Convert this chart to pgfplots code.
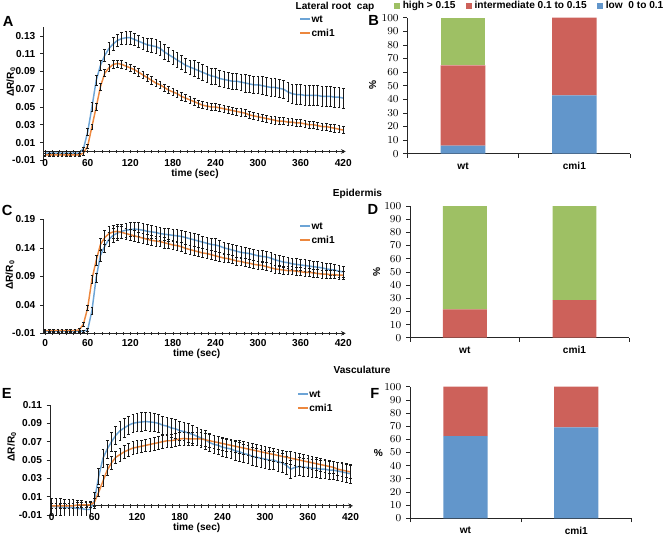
\documentclass[border=0pt]{standalone}
\usepackage{fontspec}
\setmainfont{Liberation Sans}
\usepackage{pgfplots}
\pgfplotsset{compat=1.18}
\usepackage{pgfplotstable}

\definecolor{wtc}{RGB}{108,164,214}
\definecolor{cmc}{RGB}{236,135,62}
\definecolor{hi}{RGB}{158,192,100}
\definecolor{mid}{RGB}{205,97,90}
\definecolor{lo}{RGB}{98,150,203}
\newcommand{\tf}{\bfseries\fontsize{7.6}{9}\selectfont}
\newcommand{\lf}{\bfseries\fontsize{11}{13}\selectfont}

\pgfplotstableread{
t wt wte cm cme
0 -0.002 0.002 -0.004 0.002
6 -0.002 0.002 -0.004 0.002
12 -0.002 0.002 -0.004 0.002
18 -0.002 0.002 -0.004 0.002
24 -0.002 0.002 -0.004 0.002
30 -0.002 0.002 -0.004 0.002
36 -0.002 0.002 -0.004 0.002
42 -0.002 0.002 -0.004 0.002
48 -0.002 0.002 -0.004 0.002
54 0.003 0.002 -0.002 0.002
60 0.022 0.004 0.006 0.002
66 0.050 0.005 0.028 0.003
72 0.080 0.006 0.050 0.004
78 0.097 0.006 0.073 0.004
84 0.108 0.007 0.088 0.004
90 0.116 0.007 0.094 0.004
96 0.121 0.007 0.098 0.004
102 0.125 0.007 0.099 0.004
108 0.127 0.007 0.098 0.004
114 0.128 0.007 0.096 0.004
120 0.128 0.007 0.094 0.004
126 0.126 0.007 0.092 0.004
132 0.124 0.007 0.089 0.004
138 0.122 0.007 0.086 0.004
144 0.120 0.007 0.083 0.004
150 0.119 0.008 0.080 0.004
156 0.118 0.008 0.077 0.004
162 0.116 0.008 0.075 0.004
168 0.112 0.008 0.072 0.004
174 0.109 0.008 0.069 0.004
180 0.106 0.008 0.067 0.004
186 0.103 0.008 0.065 0.004
192 0.100 0.008 0.062 0.004
198 0.097 0.008 0.060 0.004
204 0.095 0.008 0.058 0.004
210 0.093 0.009 0.056 0.004
216 0.091 0.009 0.054 0.004
222 0.089 0.009 0.052 0.004
228 0.087 0.009 0.051 0.004
234 0.085 0.009 0.050 0.004
240 0.084 0.009 0.050 0.004
246 0.082 0.009 0.049 0.004
252 0.081 0.009 0.048 0.004
258 0.080 0.009 0.047 0.004
264 0.079 0.009 0.046 0.004
270 0.079 0.009 0.045 0.004
276 0.078 0.009 0.044 0.004
282 0.077 0.010 0.043 0.004
288 0.076 0.010 0.041 0.004
294 0.075 0.010 0.040 0.004
300 0.075 0.010 0.039 0.004
306 0.074 0.010 0.038 0.004
312 0.073 0.010 0.037 0.004
318 0.072 0.010 0.036 0.004
324 0.072 0.010 0.035 0.004
330 0.071 0.010 0.034 0.004
336 0.070 0.010 0.034 0.004
342 0.067 0.011 0.033 0.004
348 0.065 0.011 0.033 0.004
354 0.064 0.011 0.032 0.004
360 0.064 0.011 0.032 0.004
366 0.063 0.011 0.031 0.004
372 0.063 0.011 0.030 0.004
378 0.063 0.011 0.030 0.004
384 0.063 0.011 0.029 0.004
390 0.062 0.011 0.028 0.004
396 0.062 0.011 0.028 0.004
402 0.062 0.011 0.027 0.004
408 0.061 0.011 0.026 0.004
414 0.061 0.011 0.025 0.004
420 0.060 0.011 0.024 0.004
}\dataA

\pgfplotstableread{
t wt wte cm cme
0 -0.006 0.002 -0.005 0.002
6 -0.006 0.002 -0.005 0.002
12 -0.006 0.002 -0.005 0.002
18 -0.006 0.002 -0.005 0.002
24 -0.006 0.002 -0.005 0.002
30 -0.006 0.002 -0.005 0.002
36 -0.006 0.002 -0.005 0.002
42 -0.006 0.002 -0.005 0.002
48 -0.006 0.002 -0.004 0.002
54 -0.006 0.002 0.006 0.003
60 -0.004 0.003 0.035 0.005
66 0.030 0.006 0.085 0.007
72 0.088 0.008 0.118 0.009
78 0.127 0.010 0.146 0.011
84 0.143 0.011 0.158 0.012
90 0.155 0.012 0.165 0.012
96 0.162 0.012 0.168 0.012
102 0.166 0.012 0.169 0.012
108 0.169 0.012 0.167 0.011
114 0.171 0.012 0.165 0.010
120 0.172 0.012 0.163 0.010
126 0.173 0.012 0.161 0.009
132 0.172 0.012 0.159 0.009
138 0.171 0.012 0.157 0.009
144 0.169 0.012 0.155 0.009
150 0.168 0.011 0.153 0.009
156 0.167 0.011 0.152 0.009
162 0.165 0.011 0.151 0.009
168 0.164 0.011 0.149 0.009
174 0.163 0.011 0.147 0.008
180 0.162 0.011 0.145 0.008
186 0.161 0.011 0.144 0.008
192 0.160 0.011 0.142 0.008
198 0.158 0.011 0.139 0.008
204 0.156 0.011 0.137 0.008
210 0.154 0.011 0.135 0.008
216 0.152 0.011 0.133 0.008
222 0.150 0.011 0.131 0.008
228 0.148 0.011 0.130 0.008
234 0.146 0.011 0.128 0.008
240 0.145 0.011 0.126 0.008
246 0.143 0.011 0.124 0.008
252 0.140 0.010 0.122 0.007
258 0.138 0.010 0.121 0.007
264 0.136 0.010 0.119 0.007
270 0.134 0.010 0.117 0.007
276 0.132 0.010 0.116 0.007
282 0.131 0.010 0.114 0.007
288 0.130 0.010 0.113 0.007
294 0.128 0.010 0.111 0.007
300 0.126 0.010 0.110 0.007
306 0.125 0.010 0.109 0.007
312 0.124 0.010 0.107 0.007
318 0.122 0.010 0.105 0.007
324 0.119 0.010 0.103 0.007
330 0.117 0.010 0.102 0.007
336 0.115 0.010 0.101 0.007
342 0.114 0.010 0.100 0.007
348 0.112 0.010 0.100 0.007
354 0.111 0.010 0.099 0.007
360 0.110 0.010 0.098 0.007
366 0.109 0.010 0.097 0.007
372 0.108 0.010 0.097 0.007
378 0.107 0.010 0.096 0.007
384 0.106 0.010 0.095 0.007
390 0.105 0.010 0.094 0.007
396 0.103 0.010 0.094 0.007
402 0.102 0.010 0.093 0.007
408 0.101 0.010 0.093 0.007
414 0.099 0.010 0.092 0.007
420 0.098 0.010 0.092 0.007
}\dataC

\pgfplotstableread{
t wt wte cm cme
0 -0.001 0.009 0.000 0.003
6 -0.001 0.009 0.000 0.003
12 -0.001 0.009 0.000 0.003
18 -0.002 0.009 0.000 0.003
24 -0.002 0.009 0.000 0.003
30 -0.002 0.009 0.000 0.003
36 -0.003 0.009 0.001 0.003
42 -0.003 0.009 0.001 0.003
48 -0.004 0.009 0.001 0.003
54 -0.004 0.009 0.001 0.003
60 0.006 0.009 0.004 0.004
66 0.032 0.009 0.015 0.005
72 0.052 0.010 0.027 0.006
78 0.062 0.010 0.039 0.006
84 0.070 0.010 0.047 0.007
90 0.077 0.010 0.053 0.007
96 0.082 0.010 0.056 0.007
102 0.085 0.010 0.059 0.007
108 0.088 0.010 0.061 0.007
114 0.090 0.010 0.063 0.007
120 0.091 0.010 0.064 0.007
126 0.0915 0.010 0.065 0.007
132 0.092 0.010 0.066 0.007
138 0.0915 0.010 0.067 0.007
144 0.091 0.010 0.068 0.007
150 0.090 0.010 0.069 0.007
156 0.088 0.010 0.070 0.007
162 0.087 0.010 0.071 0.007
168 0.085 0.010 0.071 0.007
174 0.084 0.010 0.072 0.007
180 0.082 0.010 0.073 0.007
186 0.081 0.010 0.0735 0.007
192 0.0795 0.010 0.073 0.007
198 0.078 0.010 0.073 0.007
204 0.076 0.010 0.073 0.007
210 0.074 0.010 0.073 0.007
216 0.072 0.010 0.072 0.007
222 0.069 0.010 0.071 0.007
228 0.067 0.010 0.070 0.007
234 0.066 0.010 0.069 0.007
240 0.064 0.010 0.068 0.007
246 0.063 0.010 0.067 0.007
252 0.062 0.010 0.066 0.007
258 0.060 0.010 0.065 0.007
264 0.059 0.010 0.064 0.007
270 0.057 0.010 0.063 0.007
276 0.056 0.010 0.062 0.007
282 0.054 0.010 0.061 0.007
288 0.053 0.010 0.060 0.007
294 0.052 0.010 0.059 0.007
300 0.051 0.010 0.058 0.007
306 0.050 0.010 0.057 0.007
312 0.050 0.010 0.056 0.007
318 0.048 0.010 0.055 0.007
324 0.047 0.010 0.054 0.007
330 0.044 0.010 0.053 0.007
336 0.040 0.010 0.052 0.007
342 0.042 0.010 0.051 0.007
348 0.043 0.010 0.050 0.007
354 0.042 0.010 0.049 0.007
360 0.042 0.010 0.048 0.007
366 0.041 0.010 0.047 0.007
372 0.041 0.010 0.046 0.007
378 0.040 0.010 0.045 0.007
384 0.040 0.010 0.044 0.007
390 0.039 0.010 0.043 0.007
396 0.039 0.010 0.042 0.007
402 0.038 0.010 0.040 0.007
408 0.037 0.010 0.039 0.007
414 0.036 0.010 0.038 0.007
420 0.035 0.010 0.037 0.007
}\dataE

\pgfplotsset{
  linechart/.style={
    scale only axis, anchor=south west,
    axis y line=left,
    axis line style={-, black!85, line width=0.6pt},
    xmin=-2.5, xmax=423.5,
    xtick={0,60,120,180,240,300,360,420},
    xticklabels={0,60,120,180,240,300,360,420},
    minor xtick={10,20,...,410},
    tick align=outside, major tick length=2.5pt, minor tick length=2.5pt,
    every tick/.style={black!85, line width=0.5pt},
    ticklabel style={font=\tf},
    hide obscured x ticks=false,
    legend style={draw=none, fill=none, font=\tf, inner sep=0pt, row sep=4pt,
      nodes={inner sep=0.5pt, text height=5.5pt, text depth=0pt}},
    legend cell align=left,
    legend image code/.code={\draw[line width=1.1pt, ##1] (0pt,0pt) -- (7.5pt,0pt);},
  },
  errstyle/.style={error bars/y dir=both, error bars/y explicit,
    error bars/error bar style={black!90, line width=0.5pt},
    error bars/error mark options={rotate=90, black!90, mark size=1pt, line width=0.5pt}},
  barchart/.style={
    scale only axis, anchor=south west,
    ybar stacked, bar width=0.4,
    xmin=-0.5, xmax=1.5, ymin=0, ymax=100,
    axis x line=bottom, axis y line=left,
    axis line style={-, black!85, line width=0.6pt},
    xtick={-0.5,0.5,1.5}, xticklabels={},
    extra x ticks={0,1}, extra x tick labels={wt,cmi1},
    extra x tick style={major tick length=0pt, ticklabel style={yshift=-3pt}},
    ytick={0,10,...,100},
    tick align=outside, major tick length=3pt,
    every tick/.style={black!85, line width=0.5pt},
    ticklabel style={font=\tf},
    legend image code/.code={\fill[##1] (0pt,-2.2pt) rectangle (4.4pt,2.2pt);},
  },
}

\begin{document}
\begin{tikzpicture}
\useasboundingbox (0,0) rectangle (500.25pt,-402.75pt);

% ---------- A ----------
\begin{axis}[linechart, at={(32.5pt,-120.2pt)}, width=226.8pt, height=99.9pt,
  axis x line=middle, xticklabel style={yshift=-1.5pt},
  ymin=-0.01, ymax=0.14,
  ytick={-0.01,0.01,0.03,0.05,0.07,0.09,0.11,0.13},
  yticklabels={-0.01,0.01,0.03,0.05,0.07,0.09,0.11,0.13},
  legend style={at={(axis description cs:0.846,1.094)}, anchor=north west}]
\addplot[errstyle, wtc, line width=1.1pt, no markers, forget plot] table[x=t, y=wt, y error=wte] {\dataA};
\addplot[errstyle, cmc, line width=1.1pt, no markers, forget plot] table[x=t, y=cm, y error=cme] {\dataA};
\addlegendimage{draw=wtc}
\addlegendentry{wt}
\addlegendimage{draw=cmc}
\addlegendentry{cmi1}
\end{axis}

% ---------- C ----------
\begin{axis}[linechart, at={(32.5pt,-250pt)}, width=226.8pt, height=85.5pt,
  axis x line=bottom,
  ymin=-0.01, ymax=0.19,
  ytick={-0.01,0.04,0.09,0.14,0.19},
  yticklabels={-0.01,0.04,0.09,0.14,0.19},
  legend style={at={(axis description cs:0.846,0.98)}, anchor=north west}]
\addplot[errstyle, wtc, line width=1.1pt, no markers, forget plot] table[x=t, y=wt, y error=wte] {\dataC};
\addplot[errstyle, cmc, line width=1.1pt, no markers, forget plot] table[x=t, y=cm, y error=cme] {\dataC};
\addlegendimage{draw=wtc}
\addlegendentry{wt}
\addlegendimage{draw=cmc}
\addlegendentry{cmi1}
\end{axis}

% ---------- E ----------
\begin{axis}[linechart, at={(37.5pt,-386.25pt)}, width=227.25pt, height=82.5pt,
  axis x line=middle, xticklabel style={yshift=-1pt},
  ymin=-0.01, ymax=0.11,
  ytick={-0.01,0.01,0.03,0.05,0.07,0.09,0.11},
  yticklabels={-0.01,0.01,0.03,0.05,0.07,0.09,0.11},
  legend style={at={(axis description cs:0.815,1.14)}, anchor=north west}]
\addplot[errstyle, wtc, line width=1.1pt, no markers, forget plot] table[x=t, y=wt, y error=wte] {\dataE};
\addplot[errstyle, cmc, line width=1.1pt, no markers, forget plot] table[x=t, y=cm, y error=cme] {\dataE};
\addlegendimage{draw=wtc}
\addlegendentry{wt}
\addlegendimage{draw=cmc}
\addlegendentry{cmi1}
\end{axis}

% ---------- B ----------
\begin{axis}[barchart, at={(305.5pt,-115.3pt)}, width=167pt, height=102pt,
  reverse legend, legend columns=3,
  legend style={at={(axis description cs:-0.06,1.086)}, anchor=west,
    draw=none, fill=none, font=\tf, inner sep=0pt,
    /tikz/every even column/.append style={column sep=6pt}}]
\addplot[fill=lo, draw=none] coordinates {(0,6) (1,43)};
\addlegendentry{low\ \ 0 to 0.1}
\addplot[fill=mid, draw=none] coordinates {(0,59) (1,57)};
\addlegendentry{intermediate 0.1 to 0.15}
\addplot[fill=hi, draw=none] coordinates {(0,35) (1,0)};
\addlegendentry{high > 0.15}
\end{axis}

% ---------- D ----------
\begin{axis}[barchart, at={(307.5pt,-253.3pt)}, width=164.5pt, height=98.8pt]
\addplot[fill=lo, draw=none] coordinates {(0,0) (1,0)};
\addplot[fill=mid, draw=none] coordinates {(0,21.5) (1,28.5)};
\addplot[fill=hi, draw=none] coordinates {(0,78.5) (1,71.5)};
\end{axis}

% ---------- F ----------
\begin{axis}[barchart, at={(307.5pt,-388.7pt)}, width=166.3pt, height=98.7pt]
\addplot[fill=lo, draw=none] coordinates {(0,62.5) (1,69)};
\addplot[fill=mid, draw=none] coordinates {(0,37.5) (1,31)};
\addplot[fill=hi, draw=none] coordinates {(0,0) (1,0)};
\end{axis}

% ---------- texts ----------
\node[font=\tf, anchor=base] at (251.25pt,-7pt) {Lateral root\ \ cap};
\node[font=\tf, anchor=base] at (268.1pt,-147.4pt) {Epidermis};
\node[font=\tf, anchor=base] at (271.5pt,-279.75pt) {Vasculature};

\node[font=\lf, anchor=base west, inner sep=0pt] at (2pt,-20pt) {A};
\node[font=\lf, anchor=base west, inner sep=0pt] at (276pt,-18.75pt) {B};
\node[font=\lf, anchor=base west, inner sep=0pt] at (1.3pt,-161.25pt) {C};
\node[font=\lf, anchor=base west, inner sep=0pt] at (275.5pt,-160.7pt) {D};
\node[font=\lf, anchor=base west, inner sep=0pt] at (1.3pt,-298.7pt) {E};
\node[font=\lf, anchor=base west, inner sep=0pt] at (277.5pt,-298.7pt) {F};

\node[font=\tf, rotate=90] at (8.25pt,-61.5pt) {ΔR/R\textsubscript{0}};
\node[font=\tf, rotate=90] at (7.5pt,-206.25pt) {ΔR/R\textsubscript{0}};
\node[font=\tf, rotate=90] at (8.8pt,-335pt) {ΔR/R\textsubscript{0}};

\node[font=\tf] at (146.25pt,-130.5pt) {time (sec)};
\node[font=\tf] at (147.5pt,-265.5pt) {time (sec)};
\node[font=\tf] at (147.5pt,-396.2pt) {time (sec)};

\node[font=\tf, rotate=90] at (279.5pt,-63.75pt) {\%};
\node[font=\tf, rotate=90] at (282.5pt,-203.8pt) {\%};
\node[font=\tf] at (283.7pt,-339.5pt) {\%};
\end{tikzpicture}
\end{document}
